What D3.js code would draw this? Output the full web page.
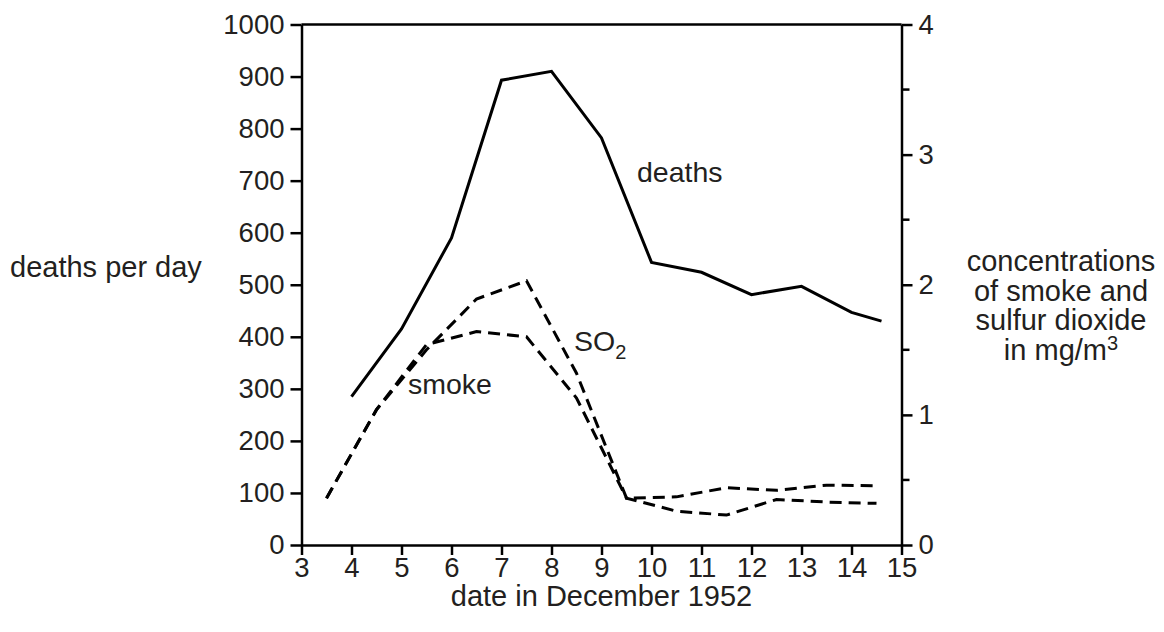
<!DOCTYPE html>
<html>
<head>
<meta charset="utf-8">
<script src="https://cdn.jsdelivr.net/npm/d3@7"></script>
<style>
  body { margin: 0; background: #fff; }
  text { font-family: "Liberation Sans", Arial, Helvetica, sans-serif; fill: #231f20; }
</style>
</head>
<body>
<svg class="smog" width="1164" height="632"></svg>
<script>
// deaths per day (left axis)
var deathDays = [4, 5, 6, 7, 8, 9, 10, 11, 12, 13, 14, 14.6];
var deaths = [285, 415, 590, 893, 910, 782, 543, 524, 481, 497, 447, 430];

// concentrations in mg/m3 (right axis), plotted at mid-day
var concDays = [3.5, 4.5, 5.5, 6.5, 7.5, 8.5, 9.5, 10.5, 11.5, 12.5, 13.5, 14.5];
var smoke = [0.36, 1.04, 1.54, 1.64, 1.60, 1.13, 0.36, 0.26, 0.23, 0.35, 0.33, 0.32];
var so2 = [0.36, 1.04, 1.50, 1.89, 2.03, 1.32, 0.36, 0.37, 0.44, 0.42, 0.46, 0.455];

var dayTicks = d3.range(3, 16);
var deathTicks = d3.range(0, 1001, 100);
var concTicks = [0, 1, 2, 3, 4];
var concMinor = [0.5, 1.5, 2.5, 3.5];

var plotLeft = 301.5, plotRight = 901.5, plotTop = 24.5, plotBottom = 545;

var x = d3.scaleLinear().domain([3, 15]).range([plotLeft, plotRight]);
var yDeaths = d3.scaleLinear().domain([0, 1000]).range([plotBottom, plotTop]);
var yConc = d3.scaleLinear().domain([0, 4]).range([plotBottom, plotTop]);

var svg = d3.select(".smog");

function styleAxis(g, size) {
  g.selectAll("path, line").attr("stroke", "#000").attr("stroke-width", 2.5);
  g.selectAll("text").attr("font-size", size).attr("fill", "#231f20");
}

// top border
svg.append("line")
    .attr("x1", plotLeft).attr("x2", plotRight)
    .attr("y1", plotTop).attr("y2", plotTop)
    .attr("stroke", "#000").attr("stroke-width", 2.5);

var xAxis = svg.append("g")
    .attr("transform", "translate(0," + plotBottom + ")")
    .call(d3.axisBottom(x).tickValues(dayTicks).tickFormat(d3.format("d"))
      .tickSize(10).tickSizeOuter(0).tickPadding(2));
styleAxis(xAxis, 27.5);

var yLeft = svg.append("g")
    .attr("transform", "translate(" + plotLeft + ",0)")
    .call(d3.axisLeft(yDeaths).tickValues(deathTicks).tickFormat(d3.format("d"))
      .tickSize(11).tickSizeOuter(0).tickPadding(6));
styleAxis(yLeft, 27.5);

var yRight = svg.append("g")
    .attr("transform", "translate(" + plotRight + ",0)")
    .call(d3.axisRight(yConc).tickValues(concTicks).tickFormat(d3.format("d"))
      .tickSize(11).tickSizeOuter(0).tickPadding(6));
styleAxis(yRight, 27.5);

yRight.selectAll(".minor")
    .data(concMinor)
  .enter().append("line")
    .attr("class", "minor")
    .attr("x1", 0).attr("x2", 8)
    .attr("y1", function(d) { return yConc(d); })
    .attr("y2", function(d) { return yConc(d); })
    .attr("stroke", "#000").attr("stroke-width", 2.5);

// lines
var deathLine = d3.line()
    .x(function(d) { return x(d[0]); })
    .y(function(d) { return yDeaths(d[1]); });

var concLine = d3.line()
    .x(function(d) { return x(d[0]); })
    .y(function(d) { return yConc(d[1]); });

svg.append("path")
    .datum(d3.zip(deathDays, deaths))
    .attr("d", deathLine)
    .attr("fill", "none").attr("stroke", "#000").attr("stroke-width", 3);

[smoke, so2].forEach(function(s) {
  svg.append("path")
      .datum(d3.zip(concDays, s))
      .attr("d", concLine)
      .attr("fill", "none").attr("stroke", "#000").attr("stroke-width", 3)
      .attr("stroke-dasharray", "12,7");
});

// labels
svg.append("text").attr("x", 637).attr("y", 182).attr("font-size", 28.5).text("deaths");
svg.append("text").attr("x", 408).attr("y", 394).attr("font-size", 28.5).text("smoke");
var so2Label = svg.append("text").attr("x", 574).attr("y", 351).attr("font-size", 28.5);
so2Label.append("tspan").text("SO");
so2Label.append("tspan").attr("dy", 8).attr("font-size", 20).text("2");

svg.append("text").attr("x", 10).attr("y", 277).attr("font-size", 29).text("deaths per day");

svg.append("text")
    .attr("x", (plotLeft + plotRight) / 2).attr("y", 606)
    .attr("text-anchor", "middle").attr("font-size", 29)
    .text("date in December 1952");

var rightTitle = ["concentrations", "of smoke and", "sulfur dioxide"];
var rt = svg.append("g").attr("text-anchor", "middle").attr("font-size", 29);
rt.selectAll("text.line")
    .data(rightTitle)
  .enter().append("text")
    .attr("class", "line")
    .attr("x", 1061)
    .attr("y", function(d, i) { return 271 + i * 29.5; })
    .text(function(d) { return d; });
var unit = rt.append("text").attr("x", 1061).attr("y", 271 + 3 * 29.5);
unit.append("tspan").text("in mg/m");
unit.append("tspan").attr("dy", -10).attr("font-size", 20).text("3");
</script>
</body>
</html>
